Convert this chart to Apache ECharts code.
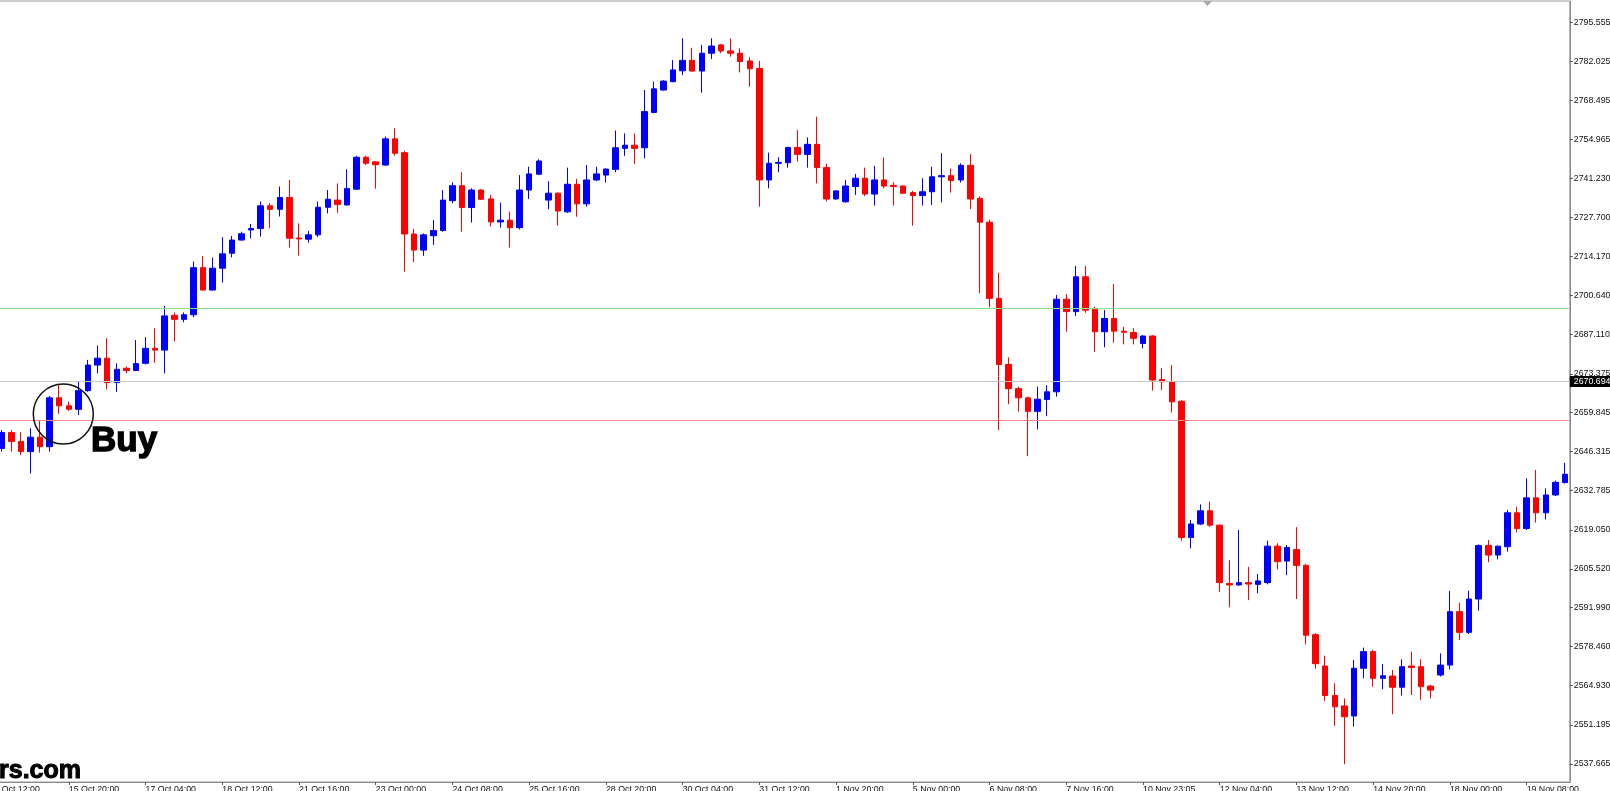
<!DOCTYPE html>
<html>
<head>
<meta charset="utf-8">
<title>XAUUSD H4</title>
<script src="https://cdn.jsdelivr.net/npm/echarts@6.0.0/dist/echarts.min.js"></script>
<style>
    html, body { margin: 0; padding: 0; background: #fff; }
    #chart { width: 1610px; height: 791px; }
</style>
</head>
<body>
<div id="chart"></div>
<script>
// H4 bars (oldest first)
var opens = [
    2647.4, 2652.9, 2649.8, 2646.3, 2651.3, 2648.0, 2665.0, 2662.2, 2661.0, 2667.5,
    2676.4, 2678.8, 2670.3, 2675.3, 2674.5, 2677.0, 2682.2, 2681.6, 2693.7, 2692.3,
    2693.9, 2710.3, 2702.5, 2710.1, 2715.3, 2719.9, 2723.4, 2723.9, 2731.8, 2730.6,
    2734.7, 2720.6, 2720.2, 2721.7, 2731.3, 2733.8, 2732.1, 2737.6, 2748.7, 2747.1,
    2746.0, 2755.1, 2750.3, 2722.0, 2716.4, 2721.4, 2723.2, 2733.6, 2738.8, 2731.2,
    2737.3, 2734.2, 2726.2, 2726.8, 2724.2, 2737.3, 2742.8, 2733.8, 2736.2, 2729.7,
    2739.3, 2732.5, 2740.8, 2742.5, 2744.5, 2751.8, 2752.9, 2752.0, 2764.3, 2772.1,
    2775.0, 2778.8, 2782.4, 2778.7, 2784.9, 2787.8, 2785.7, 2784.9, 2782.2, 2779.6,
    2740.8, 2746.6, 2746.8, 2752.1, 2749.7, 2753.2, 2745.1, 2734.2, 2733.2, 2738.5,
    2741.4, 2735.9, 2740.8, 2738.9, 2738.7, 2736.4, 2735.4, 2736.7, 2741.9, 2742.3,
    2740.8, 2745.9, 2734.4, 2726.1, 2699.6, 2676.6, 2668.2, 2665.0, 2660.3, 2664.4,
    2667.1, 2699.3, 2695.0, 2707.1, 2695.8, 2688.0, 2692.6, 2688.2, 2687.7, 2683.9,
    2686.5, 2671.4, 2670.6, 2663.8, 2616.4, 2621.1, 2625.7, 2620.7, 2600.4, 2599.9,
    2600.7, 2600.1, 2600.7, 2613.4, 2608.2, 2612.2, 2606.7, 2582.6, 2571.7, 2561.4,
    2557.8, 2554.3, 2570.9, 2576.7, 2567.4, 2568.2, 2564.3, 2571.7, 2571.45, 2564.7,
    2568.55, 2572.0, 2590.6, 2583.4, 2595.0, 2613.6, 2610.3, 2613.2, 2625.0, 2619.5,
    2630.2, 2625.0, 2631.2, 2635.5
];
var closes = [
    2652.9, 2649.8, 2646.3, 2651.3, 2648.0, 2665.0, 2662.2, 2661.0, 2667.5, 2676.4,
    2678.8, 2670.3, 2674.9, 2674.5, 2676.9, 2682.2, 2681.6, 2693.5, 2692.3, 2693.9,
    2710.3, 2702.5, 2710.1, 2715.1, 2719.9, 2722.1, 2723.9, 2731.8, 2730.6, 2734.7,
    2720.5, 2720.3, 2721.7, 2731.3, 2734.1, 2732.3, 2737.8, 2748.7, 2746.6, 2746.1,
    2755.1, 2750.1, 2722.0, 2716.4, 2721.7, 2723.2, 2733.8, 2738.8, 2731.2, 2737.3,
    2734.1, 2726.2, 2726.8, 2724.2, 2737.3, 2742.9, 2747.4, 2736.2, 2730.0, 2739.3,
    2732.5, 2740.8, 2742.9, 2744.6, 2752.0, 2752.9, 2751.8, 2764.6, 2772.5, 2775.2,
    2779.1, 2782.4, 2778.7, 2784.9, 2787.4, 2785.7, 2784.9, 2782.0, 2779.5, 2740.8,
    2746.6, 2746.9, 2752.1, 2749.7, 2753.2, 2745.1, 2734.2, 2737.0, 2738.7, 2741.4,
    2735.9, 2740.8, 2738.7, 2738.5, 2736.2, 2735.4, 2736.7, 2741.9, 2742.3, 2740.6,
    2745.9, 2734.2, 2726.1, 2699.6, 2676.6, 2668.2, 2665.0, 2660.3, 2664.5, 2667.1,
    2699.3, 2695.0, 2707.1, 2695.5, 2688.0, 2692.6, 2688.2, 2687.8, 2685.7, 2686.5,
    2671.2, 2670.6, 2663.6, 2616.4, 2621.1, 2625.7, 2620.7, 2600.7, 2599.9, 2600.7,
    2600.2, 2601.3, 2613.4, 2608.0, 2612.9, 2606.7, 2582.4, 2572.5, 2561.4, 2557.5,
    2554.05, 2570.9, 2576.7, 2567.4, 2568.3, 2564.3, 2571.45, 2571.2, 2564.5, 2563.3,
    2572.0, 2590.6, 2583.4, 2595.0, 2613.6, 2610.3, 2613.4, 2625.0, 2619.5, 2630.2,
    2625.0, 2631.2, 2635.6, 2638.4
];
var lows = [
    2646.3, 2646.3, 2645.1, 2638.7, 2645.9, 2646.3, 2659.4, 2660.5, 2659.0, 2667.1,
    2673.5, 2668.0, 2667.1, 2673.5, 2674.3, 2676.6, 2677.2, 2673.5, 2684.6, 2691.3,
    2693.0, 2702.3, 2702.3, 2705.1, 2713.9, 2719.7, 2720.5, 2721.1, 2724.0, 2728.1,
    2717.3, 2714.5, 2719.0, 2720.9, 2729.2, 2729.4, 2731.9, 2737.3, 2746.0, 2737.8,
    2745.7, 2749.2, 2708.9, 2712.2, 2714.4, 2718.2, 2722.8, 2732.7, 2722.8, 2726.0,
    2733.8, 2724.6, 2724.2, 2717.3, 2723.6, 2734.2, 2742.5, 2730.6, 2724.9, 2729.4,
    2728.0, 2731.5, 2740.4, 2739.9, 2743.5, 2749.2, 2746.4, 2748.3, 2764.0, 2771.9,
    2774.8, 2777.3, 2778.5, 2771.2, 2782.9, 2784.9, 2783.7, 2778.2, 2773.3, 2731.5,
    2737.9, 2743.5, 2745.1, 2747.2, 2745.1, 2739.6, 2733.3, 2733.9, 2732.9, 2735.6,
    2735.2, 2731.9, 2737.9, 2731.9, 2735.9, 2724.9, 2731.9, 2732.1, 2733.0, 2736.4,
    2739.9, 2730.7, 2701.4, 2696.5, 2653.8, 2662.8, 2660.2, 2644.7, 2654.0, 2658.6,
    2665.4, 2688.0, 2693.5, 2694.6, 2681.0, 2682.6, 2684.2, 2683.6, 2683.6, 2682.2,
    2667.5, 2667.7, 2659.9, 2615.3, 2612.6, 2620.7, 2620.1, 2597.5, 2592.1, 2599.6,
    2594.6, 2597.0, 2600.1, 2605.3, 2603.3, 2595.0, 2579.2, 2570.8, 2559.5, 2550.9,
    2537.5, 2550.6, 2567.4, 2564.5, 2563.6, 2554.9, 2561.4, 2561.6, 2559.9, 2560.4,
    2568.0, 2570.5, 2580.7, 2582.8, 2590.9, 2607.8, 2608.8, 2611.5, 2618.2, 2619.0,
    2621.6, 2622.7, 2630.8, 2635.2
];
var highs = [
    2653.8, 2653.8, 2653.0, 2654.4, 2657.3, 2665.6, 2669.5, 2663.7, 2670.6, 2678.2,
    2683.2, 2685.7, 2677.0, 2675.8, 2685.1, 2686.1, 2689.2, 2697.0, 2694.7, 2694.7,
    2712.4, 2714.4, 2713.8, 2720.9, 2721.3, 2722.8, 2725.5, 2733.3, 2732.7, 2738.5,
    2740.8, 2725.7, 2723.1, 2733.3, 2737.3, 2739.6, 2744.5, 2749.2, 2749.2, 2747.4,
    2755.9, 2758.8, 2751.0, 2723.8, 2722.2, 2726.9, 2737.3, 2740.0, 2743.5, 2737.9,
    2737.6, 2735.6, 2732.9, 2729.8, 2742.5, 2745.4, 2748.0, 2740.4, 2736.5, 2745.1,
    2741.2, 2746.0, 2745.4, 2744.8, 2758.0, 2757.0, 2757.0, 2772.1, 2775.0, 2775.5,
    2782.5, 2790.1, 2786.8, 2787.8, 2790.1, 2788.1, 2790.1, 2786.6, 2783.5, 2782.2,
    2750.3, 2748.7, 2752.4, 2758.2, 2755.6, 2762.8, 2746.4, 2737.2, 2740.8, 2742.9,
    2745.1, 2745.7, 2748.6, 2740.0, 2738.8, 2737.0, 2741.4, 2745.4, 2750.1, 2744.8,
    2746.6, 2749.8, 2735.0, 2727.0, 2708.5, 2679.1, 2668.9, 2665.4, 2668.9, 2669.4,
    2700.8, 2701.1, 2710.9, 2710.9, 2696.7, 2695.6, 2704.6, 2689.7, 2689.2, 2686.8,
    2686.8, 2675.3, 2676.4, 2664.2, 2622.5, 2627.9, 2628.9, 2620.9, 2608.5, 2619.0,
    2606.2, 2603.7, 2615.3, 2614.4, 2613.8, 2620.0, 2607.2, 2583.1, 2575.3, 2565.65,
    2560.4, 2573.8, 2578.1, 2577.3, 2572.4, 2570.3, 2574.0, 2576.7, 2574.0, 2565.1,
    2576.1, 2597.8, 2593.7, 2597.9, 2614.0, 2615.5, 2613.6, 2626.0, 2627.1, 2637.0,
    2639.9, 2633.5, 2636.2, 2642.4
];

// price scale labels on the right
var yTicks = [2795.555, 2782.025, 2768.495, 2754.965, 2741.230, 2727.700, 2714.170, 2700.640,
    2687.110, 2673.375, 2659.845, 2646.315, 2632.785, 2619.050, 2605.520, 2591.990,
    2578.460, 2564.930, 2551.195, 2537.665];

// time labels, one every 8 bars starting at bar 7
var xTickLabels = ['15 Oct 20:00', '17 Oct 04:00', '18 Oct 12:00', '21 Oct 16:00', '23 Oct 00:00',
    '24 Oct 08:00', '25 Oct 16:00', '28 Oct 20:00', '30 Oct 04:00', '31 Oct 12:00',
    '1 Nov 20:00', '5 Nov 00:00', '6 Nov 08:00', '7 Nov 16:00', '10 Nov 23:05',
    '12 Nov 04:00', '13 Nov 12:00', '14 Nov 20:00', '18 Nov 00:00', '19 Nov 08:00'];
var cutLabel = '14 Oct 12:00';
var FIRST_LABEL_BAR = 7;
var LABEL_EVERY = 8;

// horizontal levels
var upperLevel = 2696.2;
var lowerLevel = 2657.3;
var lastPrice = 2670.694;

var FONT = 'Liberation Sans, Arial, sans-serif';
var LABEL_SIZE = 8.8;
var BULL = '#0000ff';
var BEAR = '#ff0000';

var bars = [];
var candles = [];
for (var i = 0; i < opens.length; i++) {
    bars.push(i);
    candles.push([opens[i], closes[i], lows[i], highs[i]]);
}

function isLabelBar(index) {
    return index >= FIRST_LABEL_BAR && (index - FIRST_LABEL_BAR) % LABEL_EVERY === 0;
}

var chart = echarts.init(document.getElementById('chart'));

var option = {
    animation: false,
    backgroundColor: '#ffffff',
    grid: {
        left: -3.1,
        right: 40.2,
        top: 1,
        bottom: 9,
        containLabel: false,
        outerBoundsMode: 'none',
        show: true,
        borderColor: '#9a9a9a',
        borderWidth: 1
    },
    xAxis: {
        type: 'category',
        data: bars,
        boundaryGap: true,
        axisLine: { show: true, lineStyle: { color: '#8a8a8a', width: 1 } },
        axisTick: {
            show: true,
            alignWithLabel: true,
            interval: function (index) { return isLabelBar(index); },
            length: 3,
            lineStyle: { color: '#555' }
        },
        axisLabel: {
            show: true,
            interval: function (index) { return isLabelBar(index); },
            formatter: function (value, index) {
                return xTickLabels[(index - FIRST_LABEL_BAR) / LABEL_EVERY] || '';
            },
            align: 'left',
            margin: 3,
            fontSize: LABEL_SIZE,
            fontFamily: FONT,
            color: '#111'
        },
        splitLine: { show: false }
    },
    yAxis: {
        type: 'value',
        position: 'right',
        min: 2531.33,
        max: 2803.07,
        splitLine: { show: false },
        axisLine: { show: true, lineStyle: { color: '#8a8a8a', width: 1 } },
        axisTick: { show: true, customValues: yTicks, length: 3, lineStyle: { color: '#555' } },
        axisLabel: {
            customValues: yTicks,
            formatter: function (v) { return v.toFixed(3); },
            margin: 4,
            fontSize: LABEL_SIZE,
            fontFamily: FONT,
            color: '#111'
        }
    },
    series: [{
        type: 'candlestick',
        data: candles,
        barWidth: 6,
        itemStyle: {
            color: BULL,
            color0: BEAR,
            borderColor: BULL,
            borderColor0: BEAR,
            borderWidth: 1
        },
        markLine: {
            silent: true,
            symbol: 'none',
            animation: false,
            precision: 3,
            label: { show: false },
            data: [
                { yAxis: upperLevel, lineStyle: { color: '#8ddf8d', type: 'solid', width: 1 } },
                { yAxis: lowerLevel, lineStyle: { color: '#f28a8a', type: 'solid', width: 1 } },
                {
                    yAxis: lastPrice,
                    lineStyle: { color: '#c4c4c4', type: 'solid', width: 1 },
                    label: {
                        show: true,
                        position: 'end',
                        distance: 0,
                        formatter: function () { return lastPrice.toFixed(3); },
                        backgroundColor: '#000',
                        color: '#fff',
                        padding: [1, 4, 1, 4],
                        fontSize: LABEL_SIZE,
                        fontFamily: FONT
                    }
                }
            ]
        }
    }],
    graphic: [
        {
            type: 'circle', z: 100,
            shape: { cx: 63.3, cy: 414, r: 30 },
            style: { fill: 'none', stroke: '#111', lineWidth: 1.5 }
        },
        {
            type: 'text', z: 100, x: 91, y: 441,
            style: { text: 'Buy', fill: '#000', stroke: '#000', lineWidth: 1.4, font: 'bold 35px ' + FONT, verticalAlign: 'middle' }
        },
        {
            type: 'text', z: 100, x: -1, y: 771,
            style: { text: 'rs.com', fill: '#000', stroke: '#000', lineWidth: 1, font: 'bold 25px ' + FONT, verticalAlign: 'middle' }
        },
        {
            type: 'text', z: 100, x: -10.5, y: 785,
            style: { text: cutLabel, fill: '#111', font: LABEL_SIZE + 'px ' + FONT, verticalAlign: 'top' }
        },
        {
            type: 'polygon', z: 100,
            shape: { points: [[1203, 1], [1212, 1], [1207.5, 6]] },
            style: { fill: '#a8a8a8' }
        }
    ]
};

chart.setOption(option);
</script>
</body>
</html>
